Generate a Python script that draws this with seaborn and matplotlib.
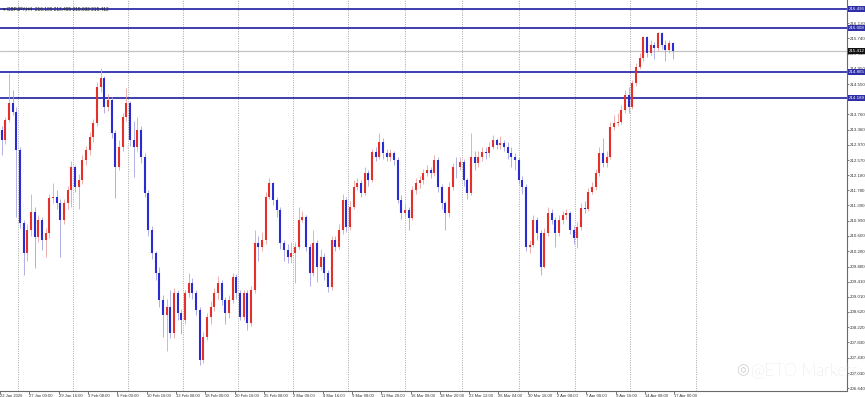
import numpy as np
import pandas as pd
import matplotlib
matplotlib.use("Agg")
import matplotlib.pyplot as plt
import matplotlib.transforms as mtransforms
import seaborn as sns

# ---------------- data (GBPJPY, candles) ----------------
first_open = 213.35
closes = [
    213.09, 213.61, 214.05, 213.83, 212.83, 210.93, 210.14, 210.75, 211.23, 210.58,
    211.01, 210.49, 210.67, 211.58, 211.62, 211.45, 211.01, 211.45, 211.79, 212.40,
    211.88, 212.05, 212.57, 212.83, 213.18, 213.53, 214.48, 214.70, 213.96, 214.13,
    213.27, 212.40, 212.92, 213.70, 214.05, 213.09, 212.92, 213.35, 212.66, 211.71,
    210.75, 210.14, 209.62, 208.93, 208.54, 208.76, 208.06, 209.10, 208.58, 208.41,
    209.10, 209.36, 209.10, 208.67, 207.37, 207.98, 208.50, 208.76, 209.10, 209.36,
    208.93, 208.58, 208.93, 209.54, 209.10, 208.50, 209.10, 208.32, 209.19, 210.41,
    210.32, 210.49, 211.62, 211.97, 211.53, 211.27, 210.41, 210.23, 210.06, 210.14,
    210.32, 211.01, 211.10, 210.32, 209.62, 210.41, 209.80, 210.06, 209.62, 209.28,
    210.49, 210.32, 210.75, 211.53, 210.84, 211.36, 211.88, 211.97, 211.71, 212.23,
    212.05, 212.79, 212.66, 213.05, 212.75, 212.66, 212.75, 212.57, 211.53, 211.19,
    211.27, 211.06, 211.79, 211.97, 212.05, 212.23, 212.31, 212.23, 212.57, 211.88,
    211.45, 211.19, 211.88, 212.40, 212.38, 212.53, 212.05, 211.71, 212.66, 212.49,
    212.66, 212.79, 212.75, 212.92, 213.09, 212.96, 213.01, 212.92, 212.75, 212.66,
    212.57, 212.05, 211.88, 210.32, 210.36, 211.01, 210.67, 209.80, 210.67, 211.19,
    211.01, 210.67, 211.01, 211.14, 211.19, 210.75, 210.54, 210.84, 211.32, 211.30,
    211.75, 211.88, 212.23, 212.75, 212.49, 212.66, 213.44, 213.53, 213.57, 213.87,
    214.27, 213.96, 214.57, 215.00, 215.22, 215.77, 215.35, 215.57, 215.48, 215.87,
    215.57, 215.44, 215.61, 215.41,
]
highs = [
    213.45, 213.70, 214.83, 214.40, 213.95, 212.90, 211.00, 210.90, 211.70, 211.35,
    211.15, 211.10, 210.80, 211.70, 211.97, 211.80, 211.55, 211.55, 211.90, 212.55,
    212.45, 212.20, 212.70, 212.95, 213.30, 213.65, 214.60, 214.96, 214.75, 214.30,
    214.20, 213.35, 213.10, 213.80, 214.44, 214.10, 213.60, 213.70, 213.45, 212.75,
    211.80, 210.85, 210.20, 209.80, 209.05, 208.95, 209.20, 209.25, 209.20, 208.70,
    209.20, 209.63, 209.50, 209.20, 208.75, 208.10, 208.60, 208.90, 209.25, 209.55,
    209.45, 209.00, 209.05, 209.63, 209.60, 209.20, 209.20, 209.20, 209.30, 210.75,
    210.60, 210.70, 211.75, 212.10, 212.00, 211.60, 211.35, 210.50, 210.40, 210.45,
    210.45, 211.36, 211.25, 211.15, 210.40, 210.75, 210.50, 210.25, 210.15, 209.70,
    210.60, 210.60, 210.90, 211.70, 211.60, 211.50, 212.05, 212.10, 212.05, 212.40,
    212.30, 212.85, 212.90, 213.27, 213.15, 212.85, 212.85, 212.80, 212.65, 211.65,
    211.40, 211.35, 211.90, 212.10, 212.15, 212.35, 212.45, 212.40, 212.70, 212.65,
    211.95, 211.50, 212.00, 212.50, 212.65, 212.65, 212.60, 212.10, 213.27, 212.80,
    212.80, 212.90, 212.90, 213.05, 213.23, 213.15, 213.20, 213.10, 213.05, 212.90,
    212.75, 212.65, 212.15, 211.95, 210.50, 211.15, 211.10, 210.75, 210.80, 211.35,
    211.30, 211.10, 211.15, 211.25, 211.30, 211.25, 210.85, 210.95, 211.45, 211.50,
    211.85, 212.00, 212.35, 212.90, 213.14, 212.80, 213.55, 213.75, 213.80, 214.00,
    214.40, 214.48, 214.65, 215.10, 215.35, 215.80, 215.80, 215.70, 215.65, 215.90,
    215.90, 215.70, 215.70, 215.65,
]
lows = [
    212.70, 213.00, 213.55, 213.75, 211.10, 210.80, 209.58, 209.95, 210.60, 209.75,
    210.45, 210.23, 210.06, 210.55, 211.45, 211.30, 210.06, 210.90, 211.30, 211.35,
    211.75, 211.30, 211.95, 212.45, 212.70, 213.05, 213.45, 214.35, 213.80, 213.85,
    213.15, 211.58, 212.30, 212.80, 213.60, 212.95, 212.14, 212.80, 212.50, 211.60,
    210.60, 210.00, 209.45, 208.75, 207.98, 207.60, 207.95, 207.95, 208.40, 208.05,
    208.30, 209.00, 208.95, 208.55, 207.24, 207.30, 207.90, 208.30, 208.65, 208.95,
    208.80, 208.30, 208.45, 208.85, 208.95, 208.40, 208.40, 208.15, 208.25, 209.10,
    209.95, 210.20, 210.40, 211.55, 211.40, 211.10, 210.25, 209.95, 209.90, 209.90,
    209.36, 210.25, 210.95, 210.20, 209.30, 209.55, 209.40, 209.70, 209.45, 209.15,
    209.20, 210.20, 210.25, 210.65, 210.70, 210.75, 211.30, 211.80, 211.60, 211.65,
    211.90, 212.00, 212.55, 212.60, 212.60, 212.55, 212.55, 212.45, 211.45, 211.05,
    211.10, 210.75, 211.00, 211.70, 211.85, 211.95, 212.15, 212.10, 212.15, 211.75,
    211.30, 210.75, 211.10, 211.80, 212.10, 212.30, 211.90, 211.55, 211.65, 212.30,
    212.40, 212.55, 212.60, 212.65, 212.85, 212.85, 212.85, 212.80, 212.60, 212.40,
    212.30, 211.95, 211.70, 210.20, 210.15, 210.30, 210.50, 209.58, 209.75, 210.60,
    210.90, 210.32, 210.60, 210.90, 211.05, 210.65, 210.40, 210.28, 210.75, 211.20,
    211.25, 211.70, 211.80, 212.15, 212.40, 212.40, 212.60, 213.35, 213.45, 213.50,
    213.80, 213.80, 213.90, 214.50, 214.95, 215.15, 215.25, 215.30, 215.20, 215.40,
    215.45, 215.15, 215.35, 215.20,
]

level_values = [216.495, 216.008, 214.865, 214.189]
level_labels = ["216.495", "216.008", "214.865", "214.189"]
last_price = 215.412
last_label = "215.412"

y_tick_values = [216.530, 216.130, 215.740, 215.340, 214.950, 214.550, 214.160,
                 213.760, 213.360, 212.970, 212.570, 212.180, 211.780, 211.390,
                 210.990, 210.600, 210.200, 209.800, 209.410, 209.010, 208.620,
                 208.220, 207.830, 207.430, 207.030, 206.640]

x_tick_labels = ["22 Jan 2026", "27 Jan 00:00", "29 Jan 16:00", "3 Feb 08:00",
                 "6 Feb 00:00", "10 Feb 16:00", "13 Feb 08:00", "18 Feb 00:00",
                 "20 Feb 16:00", "25 Feb 08:00", "2 Mar 00:00", "4 Mar 16:00",
                 "9 Mar 08:00", "11 Mar 20:00", "16 Mar 08:00", "18 Mar 20:00",
                 "23 Mar 12:00", "26 Mar 04:00", "30 Mar 16:00", "2 Apr 08:00",
                 "7 Apr 00:00", "9 Apr 16:00", "14 Apr 08:00", "17 Apr 00:00"]
bars_per_label = 16          # H4 bars between time labels
week_grid = [10, 40, 70, 100, 130, 160, 190, 221, 252, 283, 314, 344, 380]

title_text = "\u25be GBPJPY,H4  216.189 216.495 215.033 215.412"
watermark_logo = "\u25ce"
watermark_text = "@ETO Markets"

# ---------------- build tables ----------------
opens = [first_open] + closes[:-1]
n = len(closes)
xpos = [2 * i + 1 for i in range(n)]        # each drawn candle spans 2 H4 bars
direction = ["up" if c >= o else "down" for o, c in zip(opens, closes)]

wick_df = pd.DataFrame({
    "x": np.repeat(xpos, 2),
    "price": np.column_stack([lows, highs]).ravel(),
    "cid": np.repeat(np.arange(n), 2),
    "dir": np.repeat(direction, 2),
})
body_df = pd.DataFrame({
    "x": np.repeat(xpos, 2),
    "price": np.column_stack([opens, closes]).ravel(),
    "cid": np.repeat(np.arange(n), 2),
    "dir": np.repeat(direction, 2),
})

# ---------------- style ----------------
sns.set_theme(style="white")
plt.rcParams["font.family"] = ["Liberation Sans", "DejaVu Sans"]

W, H = 865, 397
fig = plt.figure(figsize=(W / 100, H / 100), dpi=100)
fig.patch.set_facecolor("white")
ax = fig.add_axes([0, 6.3 / H, 846.7 / W, 390.7 / H])
ax.set_facecolor("white")

ax.set_xlim(0, 462)
ax.set_ylim(206.570, 216.736)

# weekly dotted grid
for g in week_grid:
    ax.axvline(g, color="#9a9a9a", lw=0.6, ls=(0, (1.2, 1.6)), zorder=0)

# level lines
ax.axhline(last_price, color="#c4c4c4", lw=0.9, zorder=1)
for v in level_values:
    ax.axhline(v, color="#2e2ea8", lw=1.3, zorder=1)

# candles via seaborn
sns.lineplot(data=wick_df, x="x", y="price", units="cid", hue="dir",
             estimator=None, sort=False, legend=False, ax=ax,
             palette={"up": "#e7a2a2", "down": "#a4a4e4"}, lw=0.6,
             solid_capstyle="butt", zorder=2)
sns.lineplot(data=body_df, x="x", y="price", units="cid", hue="dir",
             estimator=None, sort=False, legend=False, ax=ax,
             palette={"up": "#e3302a", "down": "#2b2bd4"}, lw=1.5,
             solid_capstyle="butt", zorder=3)

ax.set_xlabel("")
ax.set_ylabel("")

# axes / ticks
for side in ["left", "top"]:
    ax.spines[side].set_visible(False)
for side in ["right", "bottom"]:
    ax.spines[side].set_visible(True)
    ax.spines[side].set_color("#6a6a6a")
    ax.spines[side].set_linewidth(0.8)

ax.yaxis.tick_right()
ax.set_yticks(y_tick_values)
ax.set_yticklabels([f"{v:.3f}" for v in y_tick_values])
ax.tick_params(axis="y", right=True, left=False, labelsize=3.2, length=1.5,
               width=0.5, pad=0.6, colors="#444444", labelcolor="#333333")

ax.set_xticks([bars_per_label * k for k in range(len(x_tick_labels))])
ax.set_xticklabels(x_tick_labels)
for lbl in ax.get_xticklabels():
    lbl.set_horizontalalignment("left")
ax.tick_params(axis="x", bottom=True, labelsize=3.0, length=2, width=0.5,
               pad=0.6, colors="#444444", labelcolor="#333333")
ax.grid(False)

# price boxes on the right scale
trans = mtransforms.blended_transform_factory(ax.transAxes, ax.transData)
box_kw = dict(transform=trans, fontsize=3.2, color="white", va="center",
              ha="left", clip_on=False, zorder=5)
for v, l in zip(level_values, level_labels):
    ax.text(1.002, v, l,
            bbox=dict(boxstyle="square,pad=0.2", fc="#2e2ea8", ec="none"),
            **box_kw)
ax.text(1.002, last_price, last_label,
        bbox=dict(boxstyle="square,pad=0.2", fc="#111111", ec="none"),
        **box_kw)

# title
ax.text(0.004, 0.985, title_text, transform=ax.transAxes, fontsize=3.4,
        color="#222222", va="top", ha="left")

# watermark
fig.text(736 / W, 1 - 370 / H, watermark_logo, fontsize=10.5, color="#d2d2d2",
         family=["DejaVu Sans"], va="center", ha="left", zorder=10)
fig.text(751 / W, 1 - 370 / H, watermark_text, fontsize=12, color="#cdcdcd",
         family=["Lato", "DejaVu Sans"], fontweight="light",
         va="center", ha="left", zorder=10)

fig.savefig("out.png", dpi=100, facecolor="white")
